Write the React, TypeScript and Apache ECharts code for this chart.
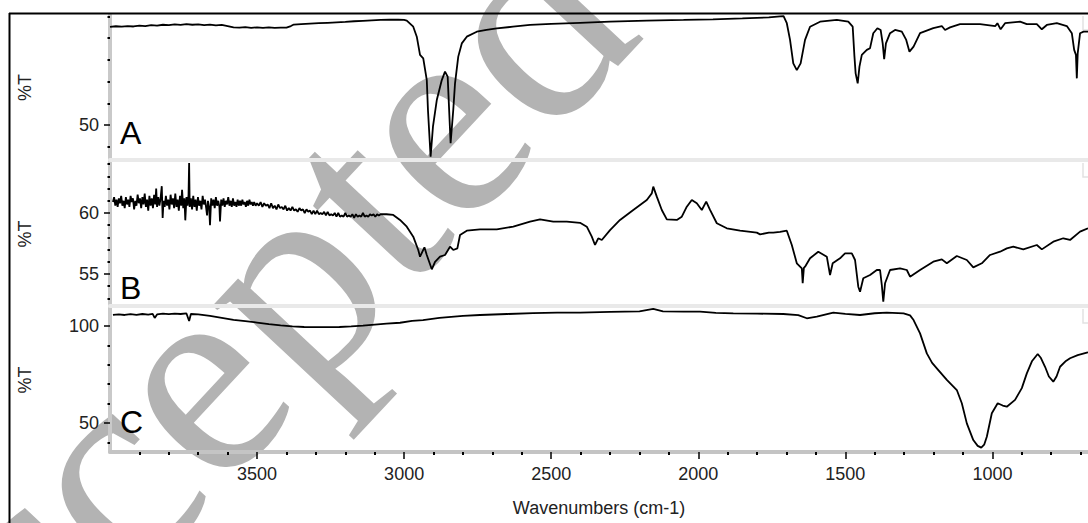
import { useEffect, useRef } from "react";
import * as echarts from "echarts";

// ---- axis extents / ticks ----
const X_MIN = 675;
const X_MAX = 4000;
const X_MAJOR = [3500, 3000, 2500, 2000, 1500, 1000];
const X_MINOR = [3900, 3800, 3700, 3600, 3400, 3300, 3200, 3100, 2900, 2800, 2700, 2600, 2400, 2300, 2200, 2100, 1900, 1800, 1700, 1600, 1400, 1300, 1200, 1100, 900, 800, 700];

const A_RANGE = [33.87, 100.69];
const A_MAJOR = [50];
const A_MINOR = [40, 60, 70, 80, 90, 100];
const B_RANGE = [52.38, 64.18];
const B_MAJOR = [55, 60];
const B_MINOR = [53, 54, 56, 57, 58, 59, 61, 62, 63, 64];
const C_RANGE = [35.05, 109.3];
const C_MAJOR = [50, 100];
const C_MINOR = [40, 60, 70, 80, 90];

const PANEL_LABELS = ["A", "B", "C"];

// ---- spectra: [wavenumber, %T] ----
const SPEC_A: [number, number][] = [
  [4000, 95.2], [3980, 95.5], [3960, 95.3], [3940, 95.6], [3920, 95.4], [3900, 95.8], [3880, 95.6], [3860, 96.0],
  [3840, 95.8], [3820, 96.2], [3800, 96.0], [3780, 96.4], [3760, 96.1], [3740, 96.5], [3720, 96.2], [3700, 96.4],
  [3680, 96.0], [3660, 96.3], [3640, 95.9], [3620, 96.1], [3600, 95.6], [3580, 95.0], [3560, 94.9], [3540, 95.1],
  [3520, 94.8], [3500, 95.0], [3480, 94.8], [3460, 95.0], [3440, 94.8], [3420, 94.9], [3400, 94.9], [3385, 95.6],
  [3375, 96.3], [3350, 96.5], [3320, 96.7], [3290, 96.9], [3260, 97.1], [3230, 97.3], [3200, 97.5], [3170, 97.8],
  [3140, 98.0], [3110, 98.2], [3080, 98.4], [3050, 98.5], [3020, 98.5], [3000, 98.4],
  [2991, 98.1], [2969, 95.3], [2957, 90.7], [2946, 82.3], [2935, 80.7], [2923, 70.7], [2919, 56.9], [2910, 35.4],
  [2902, 49.2], [2889, 61.5], [2872, 70.7], [2861, 74.6], [2852, 72.3], [2847, 56.9], [2842, 41.6], [2833, 56.9],
  [2827, 69.2], [2816, 81.5], [2804, 87.6], [2787, 90.7], [2753, 93.0], [2720, 93.8], [2685, 94.5], [2630, 95.3],
  [2572, 96.1], [2500, 96.6], [2402, 97.1], [2300, 97.6], [2175, 98.1], [2050, 98.4], [1950, 98.7], [1850, 99.1],
  [1760, 99.6], [1722, 100.1], [1710, 100.2],
  [1699, 96.9], [1688, 89.2], [1677, 78.4], [1665, 75.3], [1652, 78.4], [1637, 89.2], [1620, 95.3], [1586, 97.6],
  [1529, 98.4], [1490, 97.6], [1475, 95.3], [1469, 81.5], [1465, 73.8], [1458, 69.2], [1452, 76.9], [1444, 82.3],
  [1427, 84.6], [1416, 85.4], [1405, 92.3], [1391, 94.6], [1380, 93.8], [1373, 87.6], [1368, 80.3], [1362, 87.6],
  [1348, 92.3], [1331, 93.8], [1308, 93.0], [1293, 89.2], [1282, 83.8], [1268, 86.1], [1246, 92.3], [1201, 94.6],
  [1172, 95.6], [1161, 93.8], [1144, 95.0], [1110, 96.5], [1042, 96.5], [990, 95.6], [983, 96.9], [972, 94.1],
  [957, 96.9], [906, 97.6], [883, 96.5], [849, 96.5], [832, 94.1], [815, 96.1], [781, 96.9], [747, 95.6],
  [730, 92.3], [722, 84.6], [716, 82.3], [713, 71.5], [710, 83.0], [702, 92.3], [690, 93.0], [675, 93.0],
];

const SPEC_B: [number, number][] = [
  [3990, 60.9], [3986, 61.3], [3982, 60.6], [3978, 61.1], [3974, 60.5], [3970, 61.2], [3966, 60.8], [3962, 61.4],
  [3958, 60.6], [3954, 61.0], [3950, 60.4], [3946, 61.3], [3942, 60.7], [3938, 61.1], [3934, 60.5], [3930, 61.4],
  [3926, 60.9], [3922, 61.2], [3918, 60.3], [3914, 61.0], [3910, 60.6], [3906, 61.5], [3902, 60.8], [3898, 61.2],
  [3894, 60.4], [3890, 61.3], [3886, 60.7], [3882, 61.6], [3878, 60.5], [3874, 61.1], [3870, 60.2], [3866, 61.4],
  [3862, 60.6], [3858, 61.2], [3854, 60.4], [3850, 61.5], [3846, 60.7], [3843, 62.0], [3840, 60.5], [3836, 61.3],
  [3832, 60.6], [3828, 61.2], [3824, 62.2], [3821, 59.6], [3818, 61.0], [3814, 60.5], [3810, 61.4], [3806, 60.6],
  [3802, 61.1], [3798, 60.3], [3794, 61.5], [3790, 60.7], [3786, 61.2], [3782, 60.4], [3778, 61.6], [3774, 60.5],
  [3770, 61.1], [3766, 60.2], [3762, 61.4], [3758, 60.6], [3755, 61.9], [3751, 60.4], [3747, 61.2], [3744, 59.4],
  [3740, 61.3], [3736, 60.6], [3733, 61.5], [3731, 64.1], [3729, 60.5], [3725, 61.2], [3721, 60.3], [3717, 61.4],
  [3713, 60.5], [3709, 61.1], [3705, 60.2], [3701, 61.3], [3697, 60.6], [3693, 61.0], [3689, 60.3], [3685, 61.4],
  [3681, 60.7], [3677, 61.1], [3673, 60.4], [3670, 59.8], [3667, 61.0], [3663, 60.5], [3660, 59.0], [3656, 61.2],
  [3652, 60.6], [3648, 61.1], [3644, 60.4], [3640, 61.3], [3636, 60.6], [3632, 61.0], [3628, 60.5], [3626, 59.3],
  [3622, 61.1], [3618, 60.6], [3614, 61.2], [3610, 60.5], [3606, 61.0], [3602, 60.7], [3598, 61.3], [3594, 60.6],
  [3590, 61.0], [3586, 60.5], [3582, 61.2], [3578, 60.6], [3574, 60.9], [3570, 60.5], [3566, 61.1], [3562, 60.6],
  [3558, 61.0], [3554, 60.6], [3550, 61.1], [3546, 60.7], [3542, 60.9], [3538, 60.5], [3534, 61.0], [3530, 60.6],
  [3526, 61.1], [3522, 60.7], [3518, 60.9], [3514, 60.6], [3510, 60.9], [3505, 60.6], [3500, 60.8],
  [3494, 60.6], [3488, 60.9], [3482, 60.5], [3476, 60.8], [3470, 60.6], [3464, 60.7], [3458, 60.4], [3452, 60.8],
  [3446, 60.4], [3440, 60.6], [3434, 60.3], [3428, 60.7], [3422, 60.4], [3416, 60.5], [3410, 60.3], [3404, 60.6],
  [3398, 60.2], [3392, 60.4], [3386, 60.2], [3380, 60.5], [3374, 60.2], [3368, 60.3], [3362, 60.1], [3356, 60.4],
  [3350, 60.2], [3344, 60.3], [3338, 60.0], [3332, 60.3], [3326, 60.1], [3320, 60.2], [3314, 59.9], [3308, 60.2],
  [3302, 59.9], [3296, 60.2], [3290, 59.9], [3284, 60.0], [3278, 59.9], [3272, 60.1], [3266, 59.8], [3260, 60.1],
  [3254, 59.8], [3248, 59.9], [3242, 59.8], [3236, 60.0], [3230, 59.7], [3224, 60.0], [3218, 59.7], [3212, 59.8],
  [3206, 59.7], [3200, 60.0], [3194, 59.7], [3188, 59.8], [3182, 59.7], [3176, 59.9], [3170, 59.6], [3164, 59.9],
  [3158, 59.7], [3152, 59.8], [3146, 59.7], [3140, 60.0], [3134, 59.7], [3128, 59.8], [3122, 59.7], [3116, 59.9],
  [3110, 59.8], [3104, 59.9], [3098, 59.7], [3092, 59.9], [3086, 59.8], [3080, 59.9], [3060, 59.9], [3037, 59.84],
  [3014, 59.43], [2991, 58.88], [2969, 58.06], [2952, 56.97], [2946, 56.42], [2931, 57.19], [2923, 56.56], [2906, 55.39],
  [2895, 56.0], [2878, 56.42], [2861, 56.56], [2844, 57.24], [2833, 56.97], [2819, 57.1], [2810, 58.2], [2787, 58.55],
  [2742, 58.66], [2685, 58.66], [2629, 58.88], [2572, 59.29], [2538, 59.48], [2493, 59.29], [2447, 59.29], [2402, 59.2],
  [2379, 58.88], [2362, 58.06], [2351, 57.38], [2340, 57.93], [2328, 57.79], [2300, 58.6], [2266, 59.43], [2221, 60.25],
  [2175, 61.07], [2158, 61.61], [2153, 62.16], [2141, 61.34], [2124, 60.25], [2107, 59.48], [2073, 59.43], [2056, 59.7],
  [2039, 60.52], [2022, 61.07], [2005, 60.8], [1988, 60.25], [1973, 60.93], [1960, 60.25], [1937, 59.16], [1903, 58.75],
  [1858, 58.55], [1801, 58.39], [1790, 58.25], [1760, 58.4], [1745, 58.39], [1722, 58.45], [1699, 58.55], [1682, 57.38],
  [1665, 55.88], [1648, 55.47], [1645, 54.24], [1641, 55.5], [1637, 55.6], [1620, 56.29], [1592, 56.83], [1563, 56.42],
  [1552, 54.92], [1543, 55.88], [1518, 56.29], [1501, 56.7], [1478, 56.7], [1467, 56.15], [1456, 53.96], [1450, 53.55],
  [1439, 54.65], [1416, 54.92], [1393, 55.33], [1382, 55.33], [1376, 54.1], [1371, 52.73], [1365, 54.24], [1348, 55.33],
  [1314, 55.47], [1291, 55.33], [1280, 54.78], [1246, 55.33], [1201, 56.01], [1172, 56.2], [1155, 55.88], [1121, 56.48],
  [1087, 56.15], [1065, 55.55], [1036, 55.88], [1008, 56.56], [974, 56.83], [951, 57.1], [929, 57.24], [895, 57.02],
  [849, 57.38], [832, 57.02], [793, 57.65], [759, 57.93], [736, 57.79], [702, 58.47], [675, 58.75],
];

const SPEC_C: [number, number][] = [
  [3990, 105.8], [3970, 106.0], [3950, 105.7], [3930, 106.1], [3910, 105.8], [3890, 106.2], [3870, 105.9], [3855, 106.3],
  [3848, 104.2], [3840, 106.0], [3820, 106.4], [3800, 106.1], [3780, 106.4], [3760, 106.2], [3740, 106.5], [3731, 102.6],
  [3725, 106.2], [3700, 106.0], [3660, 105.2], [3620, 104.2], [3580, 103.2], [3540, 102.5], [3500, 101.8], [3460, 101.0],
  [3420, 100.3], [3380, 99.8], [3340, 99.5], [3300, 99.4], [3260, 99.4], [3220, 99.5], [3180, 99.8], [3140, 100.2],
  [3100, 100.7], [3060, 101.2], [3014, 101.7], [2973, 102.7], [2936, 103.1], [2880, 104.2], [2800, 105.2], [2742, 105.7],
  [2650, 106.2], [2562, 106.7], [2480, 106.9], [2402, 106.9], [2300, 107.3], [2200, 107.6], [2153, 108.8], [2120, 107.6],
  [2050, 107.4], [1994, 107.4], [1940, 106.8], [1881, 106.5], [1800, 106.4], [1711, 106.2], [1660, 105.6], [1631, 104.0],
  [1597, 104.8], [1541, 106.9], [1500, 106.3], [1450, 105.7], [1400, 106.6], [1359, 106.9], [1302, 106.5], [1280, 105.5],
  [1268, 103.1], [1246, 96.2], [1223, 85.9], [1205, 81.0], [1189, 78.2], [1155, 72.2], [1121, 67.0], [1104, 60.2],
  [1087, 49.8], [1065, 41.2], [1050, 38.2], [1038, 37.3], [1028, 38.8], [1019, 42.9], [1002, 55.0], [982, 60.2],
  [965, 59.0], [951, 58.4], [923, 61.9], [900, 68.0], [883, 75.6], [865, 82.0], [846, 85.6], [835, 83.5],
  [821, 79.0], [808, 74.0], [793, 71.3], [782, 74.0], [770, 79.0], [750, 82.0], [736, 83.4], [710, 85.0],
  [679, 86.3], [675, 86.4],
];

const SANS = '"Liberation Sans", Arial, sans-serif';
const SERIF = '"Liberation Serif", "Times New Roman", serif';
const LABEL_COLOR = "#222";

const GRIDS = [
  { left: 110, right: 0, top: 15, height: 145 },
  { left: 110, right: 0, top: 162, height: 144 },
  { left: 110, right: 0, top: 308, height: 144 },
];

function yAxes(gridIndex: number, range: number[], major: number[], minor: number[]) {
  return [
    {
      type: "value",
      gridIndex,
      position: "left",
      min: range[0],
      max: range[1],
      name: "%T",
      nameLocation: "middle",
      nameRotate: 90,
      nameGap: 76,
      nameTextStyle: { fontFamily: SANS, fontSize: 18, color: LABEL_COLOR },
      axisLine: { show: true, lineStyle: { color: "#c9c9c9", width: 4 } },
      axisTick: { show: true, customValues: major, length: 6, lineStyle: { color: "#000", width: 1.5 } },
      axisLabel: { show: true, customValues: major, margin: 11, fontFamily: SANS, fontSize: 18, color: LABEL_COLOR },
      splitLine: { show: false },
    },
    {
      type: "value",
      gridIndex,
      position: "left",
      min: range[0],
      max: range[1],
      axisLine: { show: false },
      axisTick: { show: true, customValues: minor, length: 2.5, lineStyle: { color: "#000", width: 2 } },
      axisLabel: { show: false },
      splitLine: { show: false },
    },
  ];
}

function separatorX(gridIndex: number) {
  return {
    type: "value",
    gridIndex,
    position: "bottom",
    min: X_MIN,
    max: X_MAX,
    inverse: true,
    axisLine: { show: true, onZero: false, lineStyle: { color: "#e9e9e9", width: 4 } },
    axisTick: { show: false },
    axisLabel: { show: false },
    splitLine: { show: false },
  };
}

export default function App() {
  const ref = useRef<HTMLDivElement>(null);

  useEffect(() => {
    if (!ref.current) return;
    const chart = echarts.init(ref.current, undefined, { renderer: "svg" });

    const theta = (47 * Math.PI) / 180;

    const option: any = {
      animation: false,
      backgroundColor: "#fff",
      grid: GRIDS,
      xAxis: [
        separatorX(0),
        separatorX(1),
        {
          type: "value",
          gridIndex: 2,
          position: "bottom",
          min: X_MIN,
          max: X_MAX,
          inverse: true,
          name: "Wavenumbers (cm-1)",
          nameLocation: "middle",
          nameGap: 47,
          nameTextStyle: { fontFamily: SANS, fontSize: 18, color: LABEL_COLOR },
          axisLine: { show: true, onZero: false, lineStyle: { color: "#c4c4c4", width: 4 } },
          axisTick: { show: true, customValues: X_MAJOR, length: 7, lineStyle: { color: "#000", width: 1.5 } },
          axisLabel: {
            show: true,
            customValues: X_MAJOR,
            margin: 13,
            fontFamily: SANS,
            fontSize: 18,
            color: LABEL_COLOR,
            formatter: (v: number) => String(v),
          },
          splitLine: { show: false },
        },
        {
          type: "value",
          gridIndex: 2,
          position: "bottom",
          min: X_MIN,
          max: X_MAX,
          inverse: true,
          axisLine: { show: false, onZero: false },
          axisTick: { show: true, customValues: X_MINOR, length: 3, lineStyle: { color: "#000", width: 2 } },
          axisLabel: { show: false },
          splitLine: { show: false },
        },
      ],
      yAxis: [
        ...yAxes(0, A_RANGE, A_MAJOR, A_MINOR),
        ...yAxes(1, B_RANGE, B_MAJOR, B_MINOR),
        ...yAxes(2, C_RANGE, C_MAJOR, C_MINOR),
      ],
      series: [
        { type: "line", xAxisIndex: 0, yAxisIndex: 0, data: SPEC_A },
        { type: "line", xAxisIndex: 1, yAxisIndex: 2, data: SPEC_B },
        { type: "line", xAxisIndex: 2, yAxisIndex: 4, data: SPEC_C },
      ].map((s) => ({
        ...s,
        symbol: "none",
        showSymbol: false,
        z: 5,
        lineStyle: { color: "#000", width: 1.8 },
        silent: true,
      })),
      graphic: [
        {
          type: "text",
          x: -172,
          y: 770,
          rotation: theta,
          z: -10,
          silent: true,
          style: {
            text: "Accepted Manuscript",
            font: `290px ${SERIF}`,
            fill: "#b3b3b3",
            align: "left",
            verticalAlign: "middle",
            textAlign: "left",
            textVerticalAlign: "middle",
          },
        },
        {
          type: "line",
          shape: { x1: 9, y1: 13.5, x2: 1090, y2: 13.5 },
          style: { stroke: "#000", lineWidth: 2 },
          z: 20,
        },
        {
          type: "line",
          shape: { x1: 9.5, y1: 13, x2: 9.5, y2: 530 },
          style: { stroke: "#000", lineWidth: 2 },
          z: 20,
        },
        ...[16, 163, 309].map((y) => ({
          type: "polyline",
          shape: { points: [[1083, y], [1083, y + 14], [1090, y + 14]] },
          style: { stroke: "#e2e2e2", lineWidth: 1.5, fill: null },
          z: 1,
        })),
        ...PANEL_LABELS.map((t, i) => ({
          type: "text",
          x: 120,
          y: [133, 288, 422][i],
          z: 20,
          style: {
            text: t,
            font: `32px ${SANS}`,
            fill: "#000",
            align: "left",
            verticalAlign: "middle",
            textAlign: "left",
            textVerticalAlign: "middle",
          },
        })),
      ],
    };

    chart.setOption(option);
    return () => chart.dispose();
  }, []);

  return (
    <div
      ref={ref}
      style={{ position: "absolute", left: 0, top: 0, width: 1088, height: 523 }}
    />
  );
}
